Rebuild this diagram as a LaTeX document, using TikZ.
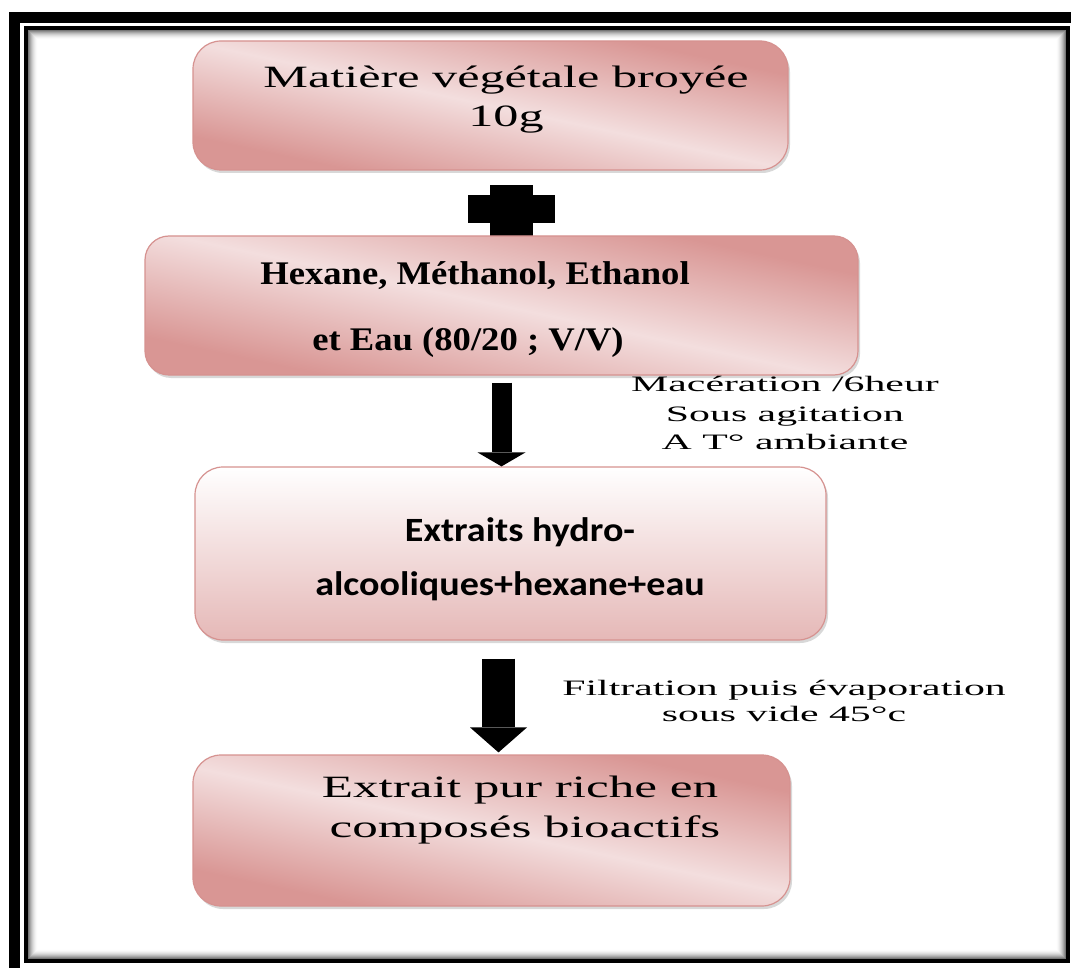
\documentclass[tikz,border=0pt]{standalone}
\usepackage{fontspec}
\usepackage{graphicx}
\usetikzlibrary{arrows.meta,shadows,calc}
\newfontfamily\tnr{Liberation Serif}
\newfontfamily\clb{Carlito}
\definecolor{pinkD}{RGB}{217,150,148}
\definecolor{pinkL}{RGB}{243,222,222}
\definecolor{pinkB}{RGB}{214,146,144}
\definecolor{pinkBot}{RGB}{229,184,183}
\pgfdeclarehorizontalshading{pinkdiag}{100bp}{color(0bp)=(pinkD); color(28bp)=(pinkD); color(50bp)=(pinkL); color(72bp)=(pinkD); color(100bp)=(pinkD)}
\newcommand{\sx}[2]{\scalebox{#1}[1]{#2}}
\begin{document}
\begin{tikzpicture}[x=1pt,y=-1pt,
  box/.style={draw=pinkB, line width=1.2pt, rounded corners=28pt, inner sep=0pt,
    drop shadow={shadow xshift=2pt, shadow yshift=-3pt, opacity=0.3}},
  diagbox/.style={box, shading=pinkdiag, shading angle=78},
  vbox/.style={box, top color=white, bottom color=pinkBot},
  txt/.style={anchor=base, inner sep=0pt},
  serifL/.style={txt, font=\tnr\fontsize{31}{31}\selectfont},
  boldL/.style={txt, font=\tnr\bfseries\fontsize{33}{33}\selectfont},
  calL/.style={txt, font=\clb\bfseries\fontsize{34}{34}\selectfont},
  serifS/.style={txt, font=\tnr\fontsize{22}{22}\selectfont},
  arrowA/.style={line width=20pt, -{Triangle[width=48pt,length=14pt,line width=0pt]}},
  arrowB/.style={line width=33pt, -{Triangle[width=57pt,length=25pt,line width=0pt]}}
]
\useasboundingbox (0,0) rectangle (1071,968);
\fill[white] (0,0) rectangle (1071,968);
% frame
\draw[line width=11pt] (14.5,17.5) rectangle (1076,973.5);
\draw[line width=4pt] (26,28) rectangle (1068,961);
\foreach \i [evaluate=\i as \p using {65*(1-\i/11)^2}] in {1,...,10}
  \draw[black!\p, line width=1pt] (28+\i-0.5,30+\i-0.5) rectangle (1066-\i+0.5,959-\i+0.5);

% boxes
\node[diagbox, minimum width=595pt, minimum height=129pt] (b1) at (490.5,105.5) {};
\fill (468,195) rectangle (555,223);
\fill (490,185) rectangle (533,236);
\node[diagbox, rounded corners=24pt, minimum width=713pt, minimum height=139pt] (b2) at (501.5,305.5) {};
\node[vbox, minimum width=631pt, minimum height=173pt] (b3) at (510.5,553.5) {};
\node[diagbox, minimum width=597pt, minimum height=151pt] (b4) at (491.5,830.5) {};

% texts
\node[serifL] (t1a) at (506,88) {\sx{1.62}{Matière végétale broyée}};
\node[serifL] (t1b) at (506,127) {\sx{1.62}{10g}};
\node[boldL] (t2a) at (475,285) {\sx{1.11}{Hexane, Méthanol, Ethanol}};
\node[boldL] (t2b) at (468,351) {\sx{1.11}{et Eau (80/20 ; V/V)}};
\node[serifS] (m1) at (785,391) {\sx{1.9}{Macération /6heur}};
\node[serifS] (m2) at (785,421) {\sx{1.9}{Sous agitation}};
\node[serifS] (m3) at (785,449) {\sx{1.9}{A T° ambiante}};
\node[calL] (t3a) at (520,541) {\sx{1.12}{Extraits hydro-}};
\node[calL] (t3b) at (510,595) {\sx{1.12}{alcooliques+hexane+eau}};
\node[serifS] (f1) at (784,695) {\sx{1.9}{Filtration puis évaporation}};
\node[serifS] (f2) at (784,721) {\sx{1.9}{sous vide 45°c}};
\node[serifL] (t4a) at (520,797) {\sx{1.65}{Extrait pur riche en}};
\node[serifL] (t4b) at (525,837) {\sx{1.65}{composés bioactifs}};

% arrows
\draw[arrowA, shorten <=7pt] (b2.south) -- (b2.south |- b3.north);
\coordinate (a2) at ($(b3.south)+(-12,0)$);
\draw[arrowB, shorten <=18pt, shorten >=2pt] (a2) -- (a2 |- b4.north);
\end{tikzpicture}
\end{document}
